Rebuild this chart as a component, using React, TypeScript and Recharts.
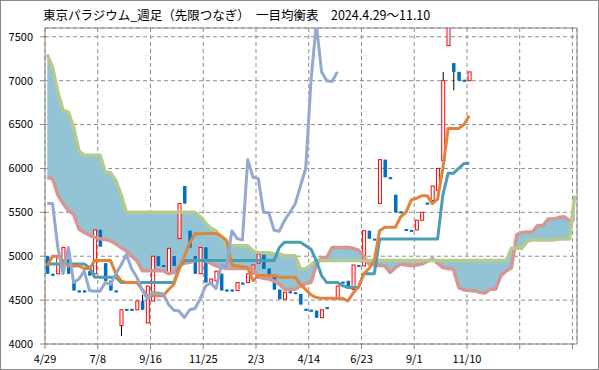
import React from "react";
import {
  Area,
  Bar,
  CartesianGrid,
  ComposedChart,
  Line,
  ReferenceLine,
  XAxis,
  YAxis,
} from "recharts";

const TITLE = "東京パラジウム_週足（先限つなぎ）　一目均衡表　2024.4.29～11.10";

// axis ticks every 10 weeks, first one is the Friday 4/29
const tickLabels = ["4/29", "7/8", "9/16", "11/25", "2/3", "4/14", "6/23", "9/1", "11/10", "", ""];
const yTicks = [4000, 4500, 5000, 5500, 6000, 6500, 7000, 7500];

// weekly candles
const opens = [
  5000, 4800, 4800, 4890, 4970, 4700, 4610, 4610, 4830, 4800,
  5300, 4920, 4720, 4610, 4210, 4400, 4400, 4390, 4490, 4240,
  4490, 5000, 4900, 4800, 5000, 5200, 5800, 5290, 5000, 4800,
  5100, 4700, 4720, 4800, 4620, 4620, 4610, 4700, 4700, 4800,
  4920, 5020, 4860, 4780, 4620, 4510, 4600, 4590, 4570, 4400,
  4390, 4380, 4300, 4420, 4530, 4510, 4710, 4720, 4620, 4900,
  4890, 5290, 5200, 5600, 6100, 5900, 5700, 5510, 5310, 5300,
  5300, 5410, 5610, 5635, 5750, 6090, 7400, 7200, 7100, 7010,
  7000,
];
const highs = [
  5000, 4800, 5000, 5100, 4970, 4700, 4610, 4610, 4830, 5300,
  5300, 4920, 4720, 4610, 4390, 4400, 4400, 4490, 4560, 4660,
  5000, 5000, 4900, 5090, 5000, 5600, 5800, 5290, 5000, 5100,
  5100, 4740, 4830, 4800, 4620, 4620, 4700, 4700, 4800, 4900,
  5020, 5020, 4860, 4780, 4620, 4590, 4600, 4590, 4570, 4400,
  4390, 4380, 4390, 4420, 4530, 4660, 4710, 4720, 4900, 4900,
  5290, 5290, 5200, 6100, 6100, 5900, 5700, 5510, 5310, 5300,
  5410, 5500, 5610, 5800, 6000, 7100, 7650, 7200, 7100, 7010,
  7100,
];
const lows = [
  4800, 4780, 4800, 4890, 4800, 4610, 4590, 4590, 4780, 4800,
  5110, 4720, 4610, 4590, 4090, 4380, 4380, 4390, 4390, 4240,
  4490, 4890, 4880, 4800, 4890, 5200, 5600, 5100, 4800, 4800,
  4700, 4700, 4720, 4610, 4600, 4600, 4610, 4680, 4700, 4800,
  4920, 4855, 4760, 4620, 4510, 4510, 4580, 4570, 4450, 4385,
  4375, 4300, 4300, 4405, 4515, 4510, 4695, 4630, 4620, 4885,
  4890, 5200, 5185, 5600, 5900, 5885, 5500, 5495, 5295, 5285,
  5300, 5410, 5595, 5635, 5750, 6090, 7400, 6890, 7000, 6990,
  7000,
];
const closes = [
  4800, 4780, 5000, 5100, 4800, 4610, 4590, 4590, 4780, 5300,
  5110, 4720, 4610, 4590, 4390, 4380, 4380, 4490, 4390, 4660,
  5000, 4890, 4880, 5090, 4890, 5600, 5600, 5100, 4800, 5100,
  4700, 4740, 4830, 4610, 4600, 4600, 4700, 4680, 4800, 4900,
  5020, 4855, 4760, 4620, 4510, 4590, 4580, 4570, 4450, 4385,
  4375, 4300, 4390, 4405, 4515, 4660, 4695, 4630, 4900, 4885,
  5290, 5200, 5185, 6100, 5900, 5885, 5500, 5495, 5295, 5285,
  5410, 5500, 5595, 5800, 6000, 7000, 7650, 7100, 7000, 6990,
  7100,
];

// 転換線 (orange) and 基準線 (teal)
const tenkan = [
  4890, 5000, 5000, 4950, 4890, 4890, 4890, 4860, 4860, 4950,
  4950, 4950, 4950, 4800, 4720, 4700, 4700, 4700, 4620, 4550,
  4550, 4550, 4550, 4620, 4680, 4850, 5000, 5150, 5255, 5255,
  5260, 5260, 5260, 5230, 5180, 4900, 4890, 4880, 4870, 4720,
  4780, 4780, 4780, 4780, 4760, 4760, 4760, 4760, 4680, 4620,
  4560, 4530, 4520, 4520, 4520, 4520, 4520, 4490, 4580, 4650,
  4800, 4860, 4950, 5290, 5330, 5330, 5330, 5450, 5500, 5640,
  5660, 5690, 5690, 5600, 5650, 6000, 6455, 6455, 6455, 6500,
  6600,
];
const kijun = [
  4910, 4910, 4910, 4910, 4910, 4910, 4910, 4910, 4870, 4760,
  4760, 4760, 4760, 4760, 4700, 4700, 4700, 4700, 4700, 4700,
  4700, 4700, 4700, 4700, 4700, 4870, 4950, 4950, 4950, 4950,
  4950, 4950, 4950, 4950, 4950, 4950, 4950, 4950, 4950, 4950,
  4950, 4950, 4950, 4950, 5100, 5160, 5160, 5160, 5160, 5120,
  5080, 4950, 4780, 4700, 4700, 4700, 4665, 4645, 4645, 4645,
  4800, 4800, 4800, 5195, 5195, 5195, 5195, 5195, 5195, 5195,
  5195, 5195, 5195, 5195, 5195, 5700, 5945, 5945, 6000, 6055,
  6055,
];

// 遅行スパン (closes drawn 25 weeks back)
const chikou = [
  5600, 5600, 5100, 4800, 5100, 4700, 4740, 4830, 4610, 4600,
  4600, 4700, 4680, 4800, 4900, 5020, 4855, 4760, 4620, 4510,
  4590, 4580, 4570, 4450, 4385, 4375, 4300, 4390, 4405, 4515,
  4660, 4695, 4630, 4900, 4885, 5290, 5200, 5185, 6100, 5900,
  5885, 5500, 5495, 5295, 5285, 5410, 5500, 5595, 5800, 6000,
  7000, 7650, 7100, 7000, 6990, 7100,
];

// 先行スパン1 (pink) and 先行スパン2 (green)
const spanA = [
  5900, 5880, 5700, 5600, 5520, 5480, 5310, 5270, 5240, 5215,
  5200, 5190, 5175, 5140, 5100, 5060, 5000, 4950, 4835, 4835,
  4835, 4835, 4835, 4800, 4815, 4890, 4920, 4930, 4950, 4950,
  4950, 4920, 4890, 4870, 4860, 4860, 4860, 4860, 4860, 4860,
  4760, 4750, 4740, 4720, 4680, 4625, 4625, 4625, 4660, 4690,
  4700, 4900, 4985, 4985, 5100, 5100, 5100, 5100, 5090, 5070,
  5000, 4910, 4900, 4895, 4890, 4815, 4870, 4910, 4900, 4890,
  4900, 4910, 4940, 4970, 4920, 4870, 4860, 4855, 4645, 4615,
  4610, 4605, 4590, 4580, 4625, 4625, 4780, 4830, 4870, 5245,
  5270, 5275, 5280, 5350, 5350, 5425, 5425, 5440, 5450, 5405,
  5415,
];
const spanB = [
  7300, 7150, 6870, 6660, 6640, 6470, 6200, 6150, 6150, 6150,
  6150, 5960, 5950, 5860, 5700, 5500, 5500, 5500, 5500, 5500,
  5500, 5500, 5500, 5500, 5500, 5500, 5500, 5500, 5500, 5450,
  5380, 5320, 5290, 5215, 5140, 5120, 5120, 5120, 5120, 5060,
  5040, 5040, 5040, 5025, 5025, 5005, 5005, 5005, 4855, 4855,
  4900, 4950, 4950, 4950, 4950, 4950, 4950, 4950, 4950, 4950,
  4950, 4950, 4950, 4950, 4950, 4950, 4950, 4950, 4950, 4950,
  4950, 4950, 4950, 4950, 4950, 4950, 4950, 4950, 4950, 4950,
  4950, 4950, 4950, 4950, 4950, 4950, 4950, 4950, 5090, 5090,
  5090, 5170, 5185, 5185, 5185, 5185, 5185, 5195, 5195, 5195,
  5690,
];

// bars are dated Monday, 3 days after the Friday the axis starts on
const rows = spanB.map((b, i) => ({
  day: 3 + 7 * i,
  open: opens[i],
  high: highs[i],
  low: lows[i],
  close: closes[i],
  tenkan: tenkan[i],
  kijun: kijun[i],
  chikou: chikou[i],
  spanA: spanA[i],
  spanB: b,
}));

const tickDays = tickLabels.map((_, k) => k * 70);
const FONT = '"Noto Sans CJK JP", "Noto Sans", sans-serif';
const GRID = "#8c8c8c";
const AXIS = "#868686";

function Candle(props: any) {
  const { x, y, width, height, payload } = props;
  if (!payload || payload.open == null || !Number.isFinite(y)) return null;
  const { open, close, high, low } = payload;
  const cx = x + width / 2;
  const k = high > low ? height / (high - low) : 0;
  const yOf = (v: number) => y + (high - v) * k;
  const top = yOf(Math.max(open, close));
  const bodyH = Math.max(Math.abs(open - close) * k, 2);
  const up = close > open;
  return (
    <g>
      <line x1={cx} x2={cx} y1={yOf(high)} y2={yOf(low)} stroke="#000" strokeWidth={1} />
      {up ? (
        <rect x={cx - 1.5} y={top} width={3} height={bodyH} fill="#fff" stroke="#ff0000" strokeWidth={1} />
      ) : (
        <rect x={cx - 1.75} y={top} width={3.5} height={bodyH} fill="#0070c0" />
      )}
    </g>
  );
}

export default function App() {
  return (
    <div style={{ position: "fixed", left: 0, top: 0, width: 599, height: 370, background: "#fff" }}>
      <ComposedChart
        width={599}
        height={370}
        data={rows}
        margin={{ top: 28, right: 22, bottom: 0, left: 0 }}
      >
        <CartesianGrid stroke={GRID} strokeDasharray="4 3" />
        <XAxis
          type="number"
          dataKey="day"
          domain={[0, 706]}
          allowDataOverflow
          ticks={tickDays}
          interval={0}
          tickFormatter={(v) => tickLabels[Math.round(Number(v) / 70)] ?? ""}
          height={26}
          tickSize={5}
          tickMargin={6}
          stroke={AXIS}
          tick={{ fill: "#000", fontSize: 11, fontFamily: FONT }}
        />
        <YAxis
          domain={[4000, 7600]}
          allowDataOverflow
          ticks={yTicks}
          interval={0}
          width={45}
          tickSize={5}
          tickMargin={7}
          stroke={AXIS}
          tick={{ fill: "#000", fontSize: 11, fontFamily: FONT }}
        />
        <ReferenceLine y={7600} stroke={GRID} />
        <ReferenceLine x={706} stroke={GRID} />
        <Area
          type="linear"
          dataKey={(d: any) => [d.spanA, d.spanB]}
          stroke="none"
          fill="#92c4d6"
          fillOpacity={1}
          isAnimationActive={false}
        />
        <Line type="linear" dataKey="spanA" stroke="#d79694" strokeWidth={3.5} dot={false} strokeLinejoin="round" isAnimationActive={false} />
        <Line type="linear" dataKey="spanB" stroke="#b5ca8d" strokeWidth={3.5} dot={false} strokeLinejoin="round" isAnimationActive={false} />
        <Bar
          dataKey={(d: any) => (d.high != null ? [d.low, d.high] : null)}
          barSize={4}
          shape={Candle}
          isAnimationActive={false}
        />
        <Line type="linear" dataKey="kijun" stroke="#4a9db3" strokeWidth={3} dot={false} strokeLinejoin="round" isAnimationActive={false} />
        <Line type="linear" dataKey="tenkan" stroke="#e0843c" strokeWidth={3} dot={false} strokeLinejoin="round" isAnimationActive={false} />
        <Line type="linear" dataKey="chikou" stroke="#94a8d0" strokeWidth={3} dot={false} strokeLinejoin="round" isAnimationActive={false} />
      </ComposedChart>
      <div
        style={{
          position: "absolute",
          left: 43,
          top: 6,
          fontFamily: FONT,
          fontSize: 12.5,
          lineHeight: "17px",
          color: "#000",
          whiteSpace: "nowrap",
        }}
      >
        {TITLE}
      </div>
      <div
        style={{
          position: "absolute",
          inset: 0,
          border: "1px solid #8a8a8a",
          boxSizing: "border-box",
          pointerEvents: "none",
        }}
      />
    </div>
  );
}
